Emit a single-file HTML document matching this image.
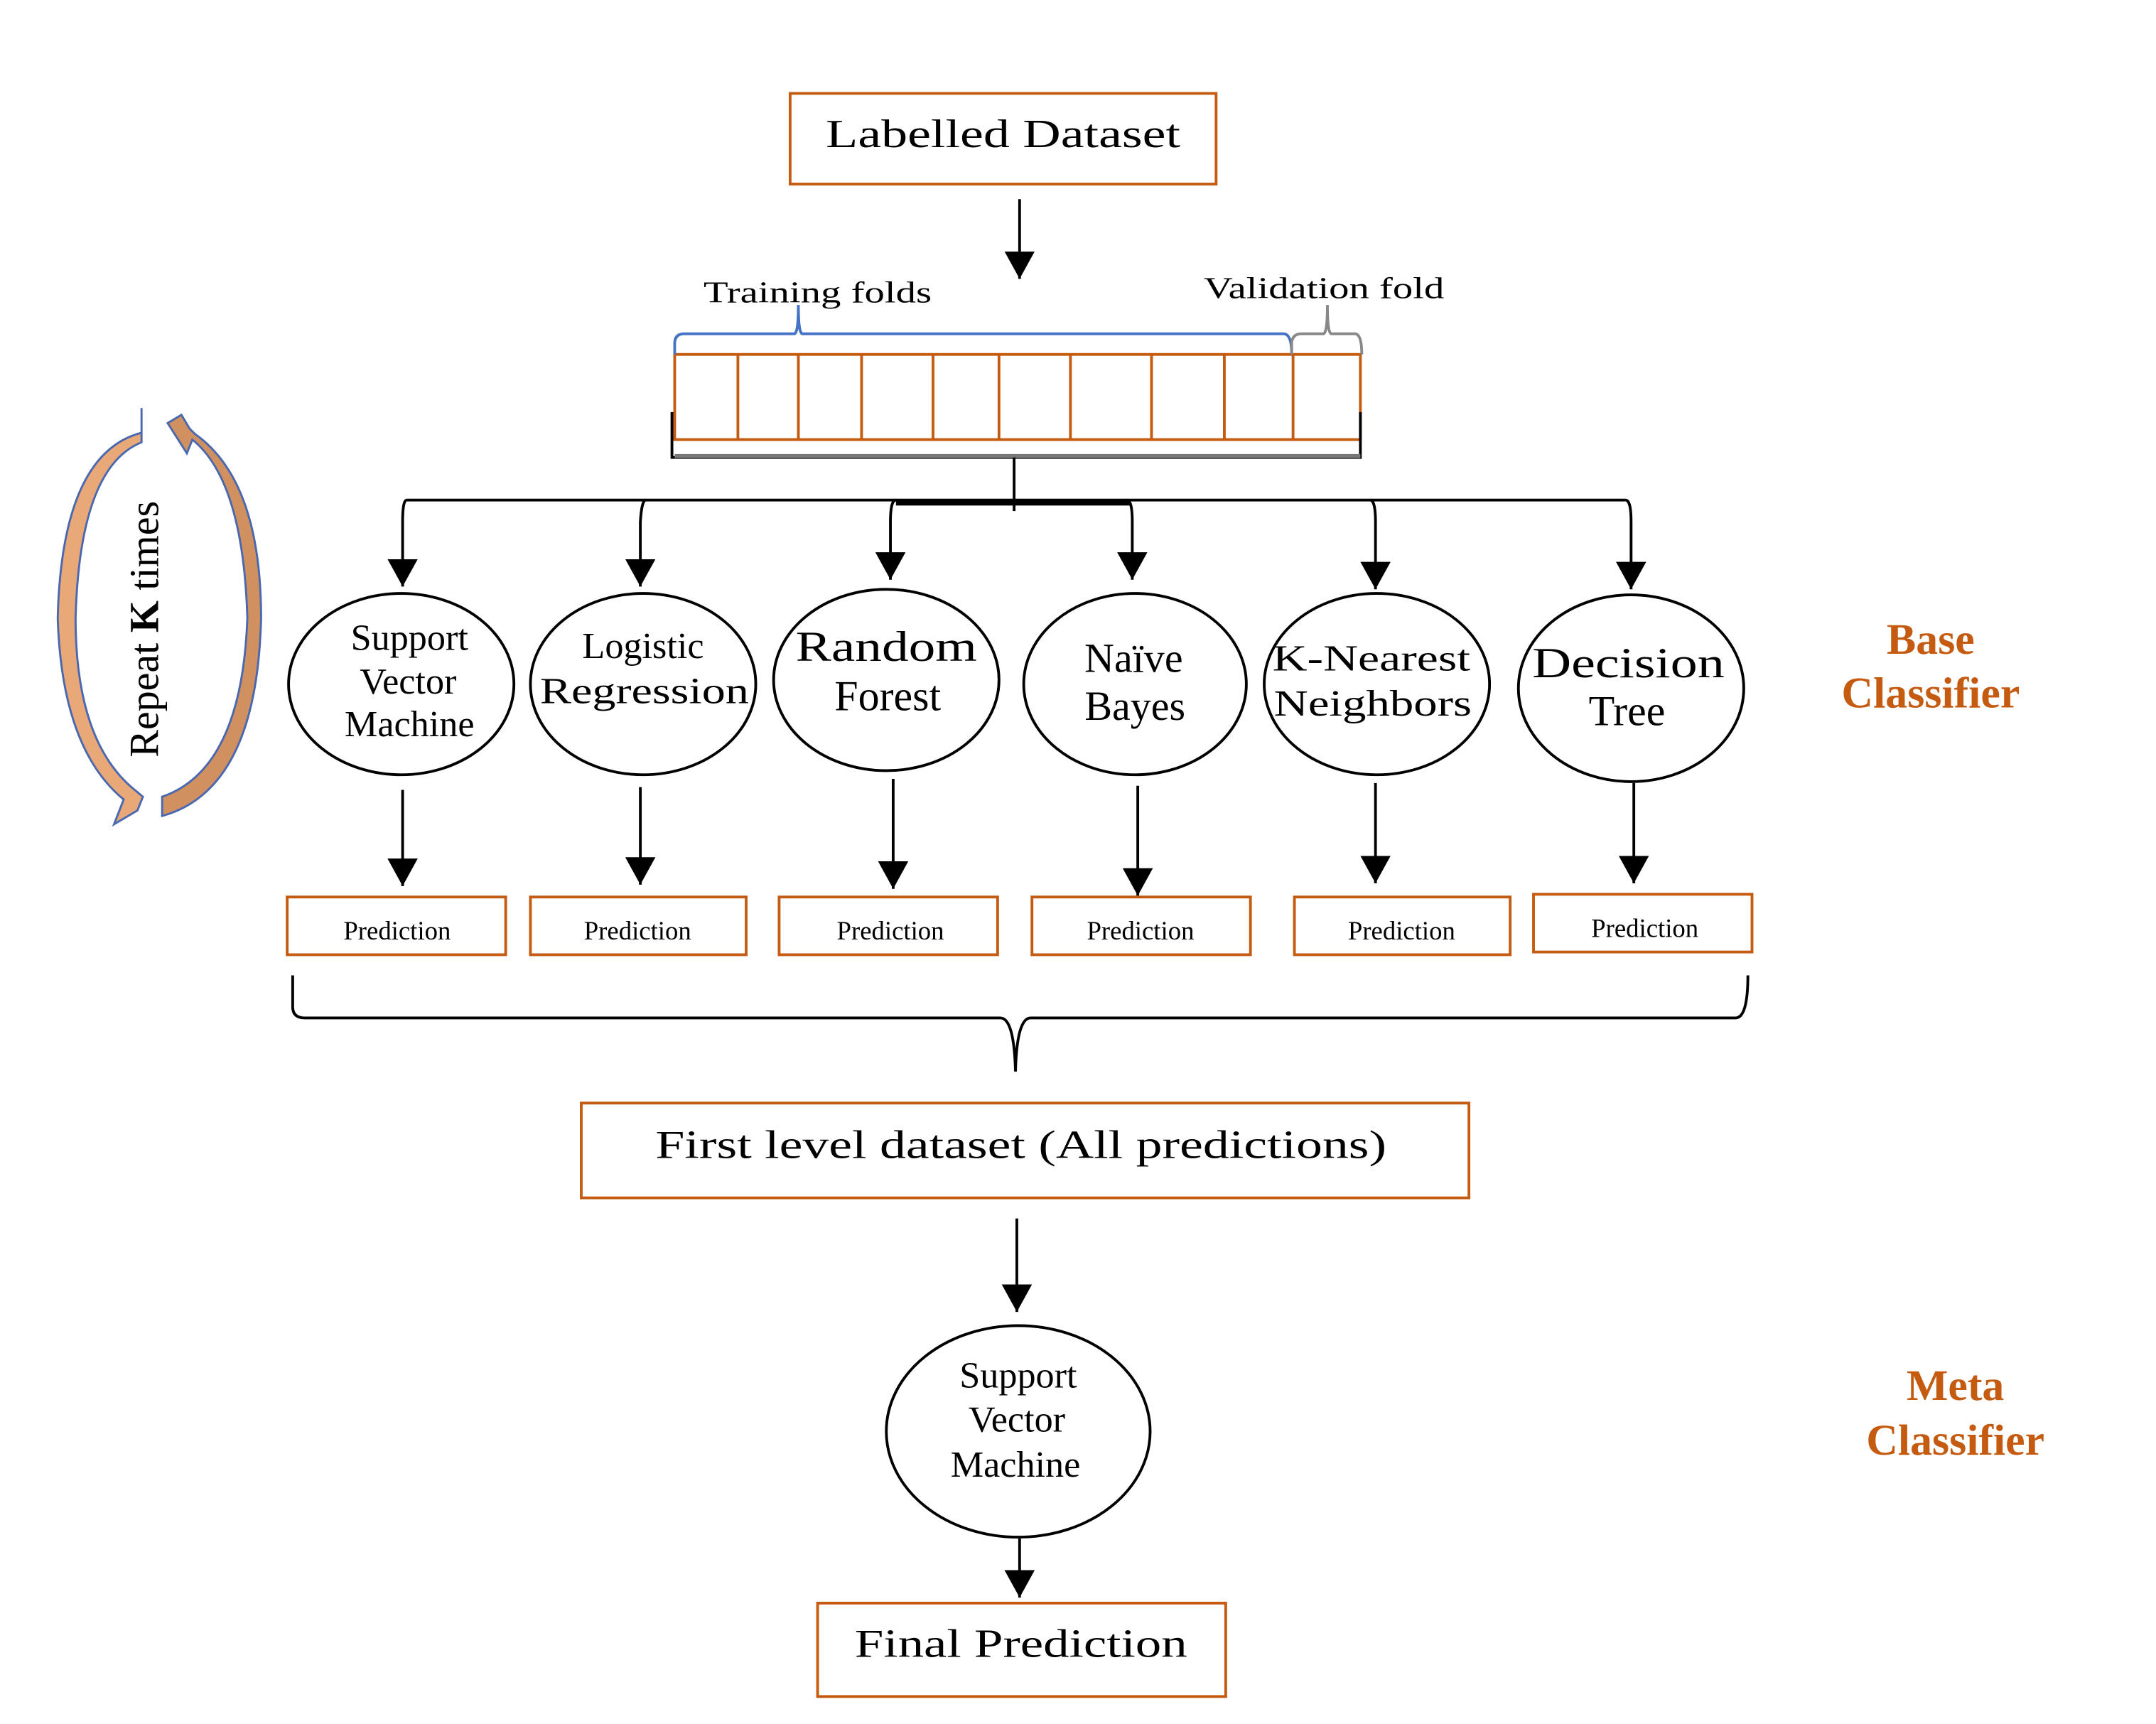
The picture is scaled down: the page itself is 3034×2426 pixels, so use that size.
<!DOCTYPE html>
<html><head><meta charset="utf-8"><style>html,body{margin:0;padding:0;background:#fff}svg{display:block}</style></head>
<body>
<svg width="3034" height="2426" viewBox="0 0 1569 1255" preserveAspectRatio="none" xmlns="http://www.w3.org/2000/svg" font-family="Liberation Serif, serif">
<defs>
<marker id="b" markerWidth="22" markerHeight="22" refX="20" refY="11" orient="auto" markerUnits="userSpaceOnUse" viewBox="0 0 22 22"><path d="M0,0 L20,11 L0,22Z" fill="#000"/></marker>
</defs>
<g fill="none" stroke="#c55a11" stroke-width="2">
<rect x="575" y="68" width="310" height="66"/>
<rect x="491" y="258" width="499" height="62"/>
<rect x="209" y="653" width="159" height="42"/>
<rect x="386" y="653" width="157" height="42"/>
<rect x="567" y="653" width="159" height="42"/>
<rect x="751" y="653" width="159" height="42"/>
<rect x="942" y="653" width="157" height="42"/>
<rect x="1116" y="651" width="159" height="42"/>
<rect x="423" y="803" width="646" height="69"/>
<rect x="595" y="1167" width="297" height="68"/>
<path d="M537 258V320M581 258V320M627 258V320M679 258V320M727 258V320M779 258V320M838 258V320M891 258V320M941 258V320"/>
</g>
<path d="M489 300V333H990V300" fill="none" stroke="#000" stroke-width="2"/>
<path d="M491 332H990" stroke="#777" stroke-width="3"/>
<path d="M491 258V250Q491 243 498 243H578Q581 243 581 222Q581 243 584 243H934Q940 243 940 258" fill="none" stroke="#4472c4" stroke-width="2"/>
<path d="M940 258V249Q941 243 947 243H963Q966 243 966 222Q966 243 969 243H986Q991 243 991 258" fill="none" stroke="#888" stroke-width="2"/>
<g font-size="22" fill="#000" lengthAdjust="spacingAndGlyphs">
<text x="512" y="220" textLength="166" lengthAdjust="spacingAndGlyphs">Training folds</text>
<text x="876" y="217" textLength="175" lengthAdjust="spacingAndGlyphs">Validation fold</text>
</g>
<g stroke="#000" stroke-width="2" fill="none">
<path d="M742 145V203" marker-end="url(#b)"/>
<path d="M738 333V372"/>
<path d="M296 364H1183"/>
<path d="M652 366H822" stroke-width="4"/>
<path d="M296 364Q293 364 293 380V427" marker-end="url(#b)"/>
<path d="M470 364Q467 364 466 380V427" marker-end="url(#b)"/>
<path d="M652 364Q648 364 648 380V422" marker-end="url(#b)"/>
<path d="M820 364Q824 364 824 380V422" marker-end="url(#b)"/>
<path d="M997 364Q1001 364 1001 380V429" marker-end="url(#b)"/>
<path d="M1183 364Q1187 364 1187 380V429" marker-end="url(#b)"/>
<path d="M293 575V645" marker-end="url(#b)"/>
<path d="M466 573V644" marker-end="url(#b)"/>
<path d="M650 567V647" marker-end="url(#b)"/>
<path d="M828 572V652" marker-end="url(#b)"/>
<path d="M1001 570V643" marker-end="url(#b)"/>
<path d="M1189 570V643" marker-end="url(#b)"/>
<path d="M740 887V955" marker-end="url(#b)"/>
<path d="M742 1120V1163" marker-end="url(#b)"/>
<ellipse cx="292" cy="498" rx="82" ry="66"/>
<ellipse cx="468" cy="498" rx="82" ry="66"/>
<ellipse cx="645" cy="495" rx="82" ry="66"/>
<ellipse cx="826" cy="498" rx="81" ry="66"/>
<ellipse cx="1002" cy="498" rx="82" ry="66"/>
<ellipse cx="1187" cy="501" rx="82" ry="68"/>
<ellipse cx="741" cy="1042" rx="96" ry="77"/>
<path d="M213 710V733Q213 741 222 741H728Q738 741 739 780Q740 741 750 741H1263Q1272 741 1272 710"/>
</g>
<g font-size="29" fill="#000" text-anchor="middle">
<text x="730" y="107" textLength="258" lengthAdjust="spacingAndGlyphs">Labelled Dataset</text>
<text x="743" y="843" textLength="532" lengthAdjust="spacingAndGlyphs">First level dataset (All predictions)</text>
<text x="743" y="1206" textLength="242" lengthAdjust="spacingAndGlyphs">Final Prediction</text>
</g>
<g font-size="27" fill="#000" text-anchor="middle">
<text x="298" y="473">Support</text><text x="297" y="505">Vector</text><text x="298" y="536">Machine</text>
<text x="468" y="479">Logistic</text><text x="469" y="512" textLength="152" lengthAdjust="spacingAndGlyphs">Regression</text>
<text x="645" y="481" font-size="31" textLength="132" lengthAdjust="spacingAndGlyphs">Random</text><text x="646" y="517" font-size="31">Forest</text>
<text x="825" y="489" font-size="30">Naïve</text><text x="826" y="524" font-size="30">Bayes</text>
<text x="998" y="488" textLength="144" lengthAdjust="spacingAndGlyphs">K-Nearest</text><text x="999" y="521" textLength="144" lengthAdjust="spacingAndGlyphs">Neighbors</text>
<text x="1185" y="493" font-size="31" textLength="140" lengthAdjust="spacingAndGlyphs">Decision</text><text x="1184" y="528" font-size="31">Tree</text>
<text x="741" y="1010">Support</text><text x="740" y="1042">Vector</text><text x="739" y="1075">Machine</text>
</g>
<g font-size="19" fill="#000" text-anchor="middle">
<text x="289" y="684">Prediction</text>
<text x="464" y="684">Prediction</text>
<text x="648" y="684">Prediction</text>
<text x="830" y="684">Prediction</text>
<text x="1020" y="684">Prediction</text>
<text x="1197" y="682">Prediction</text>
</g>
<g font-size="32" fill="#c55a11" text-anchor="middle" font-weight="bold">
<text x="1405" y="476">Base</text><text x="1405" y="515">Classifier</text>
<text x="1423" y="1019">Meta</text><text x="1423" y="1059">Classifier</text>
</g>
<text transform="translate(115,458) rotate(-90)" font-size="30" text-anchor="middle" fill="#000">Repeat <tspan font-weight="bold">K</tspan> times</text>
<path d="M103 297V315Q45 330 42 450Q45 545 90 582L83 600L100 590L104 580L98 575Q55 540 55 450Q58 340 103 322Z" fill="#e8a878" stroke="#4a68b0" stroke-width="1.5"/>
<path d="M118 594V580Q176 560 180 450Q177 350 140 320L136 330L122 308L132 302L138 312L142 316Q190 350 190 450Q187 575 118 594Z" fill="#d09060" stroke="#4a68b0" stroke-width="1.5"/>
</svg>
</body></html>
